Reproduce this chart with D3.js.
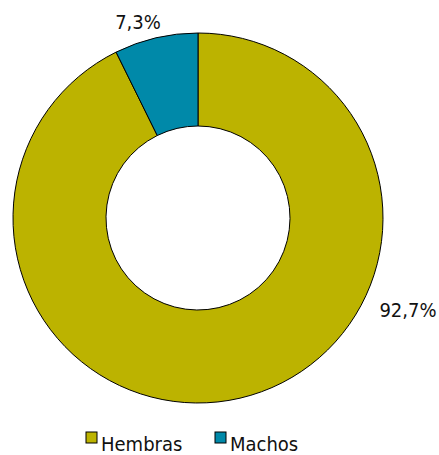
<!DOCTYPE html>
<html>
<head>
<meta charset="utf-8">
<script src="https://cdn.jsdelivr.net/npm/d3@7"></script>
<style>
    body { margin: 0; background: #fff; }
    text { font-family: "DejaVu Sans Condensed", sans-serif; font-stretch: condensed; fill: #111; }
</style>
</head>
<body>
<div id="scene"></div>
<script>
const categories = ['Hembras', 'Machos'];
const values = [92.7, 7.3];
const labels = ['92,7%', '7,3%'];
const colors = ['#bcb300', '#0089a9'];

const width = 439;
const height = 455;
const cx = 198;
const cy = 218;
const outerR = 185;
const innerR = 92;

const svg = d3.select('#scene')
    .append('svg')
    .attr('width', width)
    .attr('height', height);

const chart = svg.append('g')
    .attr('transform', `translate(${cx},${cy})`);

const pie = d3.pie().sort(null).value(d => d);
const arcs = pie(values);

const arc = d3.arc().innerRadius(innerR).outerRadius(outerR);

chart.selectAll('path')
    .data(arcs)
    .enter().append('path')
    .attr('d', arc)
    .attr('fill', (d, i) => colors[i])
    .attr('stroke', '#000')
    .attr('stroke-width', 1);

// value labels, placed outside the ring
const labelPos = [[210, 99], [-60, -189]];
chart.selectAll('.valLabel')
    .data(arcs)
    .enter().append('text')
    .attr('class', 'valLabel')
    .attr('x', (d, i) => labelPos[i][0])
    .attr('y', (d, i) => labelPos[i][1])
    .attr('text-anchor', 'middle')
    .attr('font-size', 20)
    .text((d, i) => labels[i]);

// legend
const legendX = [86, 215];
const legend = svg.selectAll('.legend')
    .data(categories)
    .enter().append('g')
    .attr('class', 'legend')
    .attr('transform', (d, i) => `translate(${legendX[i]},432)`);

legend.append('rect')
    .attr('width', 11)
    .attr('height', 11)
    .attr('fill', (d, i) => colors[i])
    .attr('stroke', '#000')
    .attr('stroke-width', 1);

legend.append('text')
    .attr('x', 15)
    .attr('y', 19)
    .attr('font-size', 20)
    .text(d => d);
</script>
</body>
</html>
